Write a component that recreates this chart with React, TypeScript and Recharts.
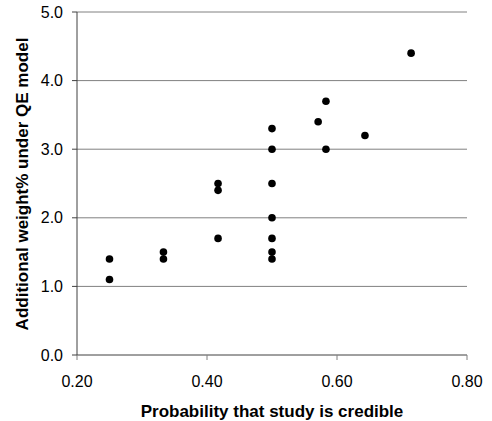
import { ScatterChart, Scatter, XAxis, YAxis, CartesianGrid, Label } from 'recharts';

// probability that study is credible
const credibility = [
  0.25, 0.25, 0.333, 0.333, 0.417, 0.417, 0.417, 0.5, 0.5, 0.5, 0.5, 0.5, 0.5, 0.5, 0.571, 0.583, 0.583, 0.643,
  0.714,
];
// additional weight% under QE model
const extraWeight = [1.1, 1.4, 1.4, 1.5, 1.7, 2.4, 2.5, 1.4, 1.5, 1.7, 2.0, 2.5, 3.0, 3.3, 3.4, 3.0, 3.7, 3.2, 4.4];

const xTicks = [0.2, 0.4, 0.6, 0.8];
const yTicks = [0, 1, 2, 3, 4, 5];

const FONT = '"Liberation Sans", Arial, sans-serif';

const points = credibility.map((x, i) => ({ x, y: extraWeight[i] }));

const Dot = (props: any) => <circle cx={props.cx} cy={props.cy} r={3.8} fill="#000" />;

const App = () => {
  return (
    <div style={{ position: 'absolute', left: 0, top: 0 }}>
      <ScatterChart width={492} height={421} margin={{ top: 12, right: 25, bottom: 0, left: 0 }}>
        <CartesianGrid vertical={false} stroke="#808080" />
        <XAxis
          type="number"
          dataKey="x"
          domain={[0.2, 0.8]}
          ticks={xTicks}
          tickFormatter={(v: number) => v.toFixed(2)}
          height={66}
          tickSize={5}
          tickMargin={16}
          stroke="#808080"
          tick={{ fill: '#000', fontSize: 16, fontFamily: FONT }}
        >
          <Label
            content={() => (
              <text x={272} y={417} textAnchor="middle" fontFamily={FONT} fontSize={17} fontWeight="bold" fill="#000">
                Probability that study is credible
              </text>
            )}
          />
        </XAxis>
        <YAxis
          type="number"
          dataKey="y"
          domain={[0, 5]}
          ticks={yTicks}
          tickFormatter={(v: number) => v.toFixed(1)}
          width={77}
          tickSize={5}
          tickMargin={9}
          stroke="#404040"
          tick={{ fill: '#000', fontSize: 16, fontFamily: FONT }}
        >
          <Label
            content={() => (
              <text
                x={0}
                y={0}
                transform="translate(28,184) rotate(-90)"
                textAnchor="middle"
                fontFamily={FONT}
                fontSize={17}
                fontWeight="bold"
                fill="#000"
              >
                Additional weight% under QE model
              </text>
            )}
          />
        </YAxis>
        <Scatter data={points} shape={Dot} isAnimationActive={false} />
      </ScatterChart>
    </div>
  );
};

export default App;
